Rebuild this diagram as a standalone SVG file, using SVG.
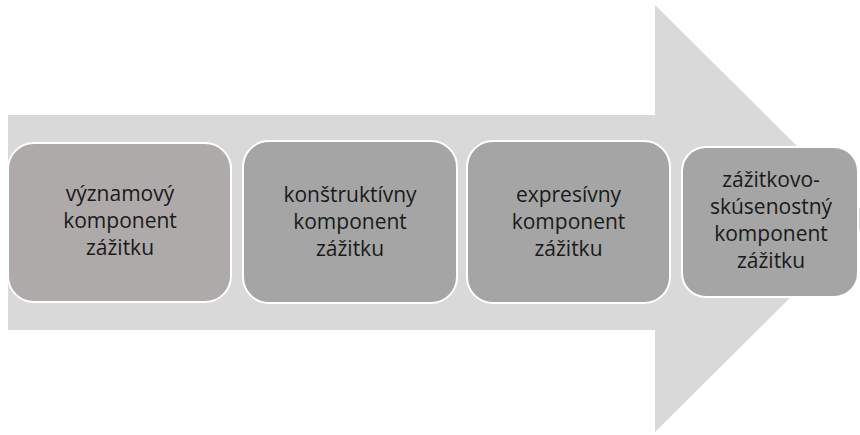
<svg xmlns="http://www.w3.org/2000/svg" width="860" height="435" viewBox="0 0 860 435">
<style>
.box{stroke:#ffffff;stroke-width:2}
.t{font-family:"Open Sans","Liberation Sans",sans-serif;font-size:21px;fill:#1a1a1a;text-anchor:middle}
</style>
<rect width="860" height="435" fill="#ffffff"/>
<g id="arrow">
<polygon points="8,115 655,115 655,5 870,218.5 655,432 655,330 8,330" fill="#d9d9d9"/>
</g>
<g id="connectors"></g>
<g id="n1">
<rect class="box" x="8" y="143" width="223" height="159" rx="26" fill="#aeaaaa"/>
<text class="t" x="120" y="201">významový</text>
<text class="t" x="120" y="228">komponent</text>
<text class="t" x="120" y="255">zážitku</text>
</g>
<g id="n2">
<rect class="box" x="243" y="141" width="214" height="162" rx="26" fill="#a5a5a5"/>
<text class="t" x="350" y="202">konštruktívny</text>
<text class="t" x="350" y="229">komponent</text>
<text class="t" x="350" y="256">zážitku</text>
</g>
<g id="n3">
<rect class="box" x="467" y="141" width="203" height="162" rx="26" fill="#a5a5a5"/>
<text class="t" x="568.5" y="202">expresívny</text>
<text class="t" x="568.5" y="229">komponent</text>
<text class="t" x="568.5" y="256">zážitku</text>
</g>
<g id="n4">
<rect class="box" x="682" y="147" width="176" height="150" rx="24" fill="#a5a5a5"/>
<text class="t" x="771" y="187">zážitkovo-</text>
<text class="t" x="771" y="214">skúsenostný</text>
<text class="t" x="771" y="241">komponent</text>
<text class="t" x="771" y="268">zážitku</text>
</g>
</svg>
